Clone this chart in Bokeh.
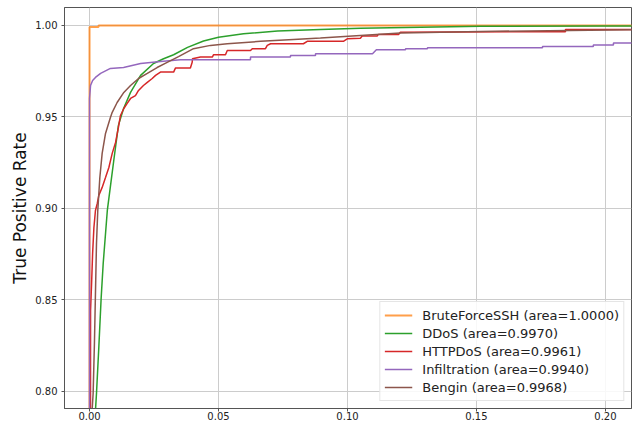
from bokeh.plotting import figure
from bokeh.models import Range1d, FixedTicker, NumeralTickFormatter, Legend, LegendItem
from bokeh.embed import file_html
from bokeh.resources import INLINE

# ---- data ----
classes = ["BruteForceSSH", "DDoS", "HTTPDoS", "Infiltration", "Bengin"]
areas = [1.0000, 0.9970, 0.9961, 0.9940, 0.9968]

fpr_bruteforce = [0.0, 0.0, 0.0035, 0.0035, 1.0]
tpr_bruteforce = [0.0, 0.9991, 0.9991, 1.0, 1.0]

fpr_ddos = [0.0, 0.0023, 0.0027, 0.0036, 0.0045, 0.0053, 0.0069, 0.0084, 0.0094, 0.0112,
            0.0132, 0.0159, 0.0198, 0.0248, 0.0287, 0.0326, 0.0380, 0.0442, 0.0500, 0.0597,
            0.0729, 0.0895, 0.1050, 0.1516, 0.1980, 0.2300]
tpr_ddos = [0.0, 0.7896, 0.7989, 0.8240, 0.8508, 0.8699, 0.8989, 0.9153, 0.9262, 0.9454,
            0.9546, 0.9634, 0.9727, 0.9792, 0.9818, 0.9840, 0.9880, 0.9915, 0.9936, 0.9955,
            0.9969, 0.9978, 0.9985, 0.9995, 0.9997, 0.9998]

fpr_httpdos = [0.0, 0.0004, 0.0008, 0.0012, 0.0017, 0.0023, 0.0030, 0.0036, 0.0049, 0.0062,
               0.0075, 0.0088, 0.0101, 0.0112, 0.0120, 0.0133, 0.0146, 0.0159, 0.0178, 0.0190,
               0.0209, 0.0224, 0.0243, 0.0256, 0.0275, 0.0326, 0.0333, 0.0391, 0.0398, 0.0399,
               0.0430, 0.0476, 0.0481, 0.0527, 0.0534, 0.0624, 0.0631, 0.0682, 0.0689, 0.0702,
               0.0829, 0.0844, 0.0984, 0.0999, 0.1050, 0.1057, 0.1115, 0.1120, 0.1198, 0.1205,
               0.1845, 0.1845, 0.2300]
tpr_httpdos = [0.0, 0.8443, 0.8590, 0.8754, 0.8896, 0.8989, 0.9027, 0.9071, 0.9115, 0.9169,
               0.9224, 0.9301, 0.9361, 0.9443, 0.9508, 0.9546, 0.9574, 0.9601, 0.9617, 0.9645,
               0.9672, 0.9689, 0.9710, 0.9727, 0.9745, 0.9745, 0.9767, 0.9767, 0.9799, 0.9818,
               0.9827, 0.9827, 0.9840, 0.9840, 0.9863, 0.9863, 0.9873, 0.9873, 0.9891, 0.9900,
               0.9900, 0.9913, 0.9913, 0.9927, 0.9930, 0.9942, 0.9942, 0.9951, 0.9951, 0.9963,
               0.9966, 0.9978, 0.9978]

fpr_infiltration = [0.0, 0.0, 0.0004, 0.0012, 0.0023, 0.0043, 0.0081, 0.0132, 0.0198, 0.0275,
                    0.0353, 0.0624, 0.0624, 0.0779, 0.0779, 0.0876, 0.0876, 0.1097, 0.1112, 0.1225,
                    0.1225, 0.1310, 0.1310, 0.1756, 0.1756, 0.1953, 0.1953, 0.2031, 0.2031, 0.2300]
tpr_infiltration = [0.0, 0.9601, 0.9672, 0.9699, 0.9716, 0.9738, 0.9765, 0.9770, 0.9792, 0.9803,
                    0.9813, 0.9813, 0.9827, 0.9827, 0.9836, 0.9836, 0.9845, 0.9845, 0.9867, 0.9867,
                    0.9873, 0.9873, 0.9878, 0.9878, 0.9885, 0.9885, 0.9893, 0.9893, 0.9904, 0.9904]

fpr_bengin = [0.0, 0.0010, 0.0014, 0.0019, 0.0023, 0.0027, 0.0032, 0.0040, 0.0049, 0.0062,
              0.0081, 0.0088, 0.0107, 0.0133, 0.0159, 0.0190, 0.0224, 0.0262, 0.0301, 0.0345,
              0.0403, 0.0469, 0.0534, 0.0663, 0.0791, 0.0895, 0.1050, 0.1205, 0.1516, 0.2097, 0.2300]
tpr_bengin = [0.0, 0.7896, 0.7989, 0.8262, 0.8536, 0.8809, 0.8989, 0.9169, 0.9301, 0.9410,
              0.9497, 0.9525, 0.9579, 0.9634, 0.9672, 0.9710, 0.9738, 0.9770, 0.9798, 0.9830,
              0.9873, 0.9891, 0.9900, 0.9913, 0.9923, 0.9931, 0.9945, 0.9958, 0.9967, 0.9977, 0.9978]

x_ticks = [0.0, 0.05, 0.10, 0.15, 0.20]
y_ticks = [0.80, 0.85, 0.90, 0.95, 1.00]

series = [
    (fpr_bruteforce, tpr_bruteforce, "#ff7f0e", 2.0, 0.75),
    (fpr_ddos, tpr_ddos, "#2ca02c", 1.5, 1.0),
    (fpr_httpdos, tpr_httpdos, "#d62728", 1.5, 1.0),
    (fpr_infiltration, tpr_infiltration, "#9467bd", 1.5, 1.0),
    (fpr_bengin, tpr_bengin, "#8c564b", 1.5, 1.0),
]

p = figure(width=637, height=425, output_backend="svg", toolbar_location=None,
           x_range=Range1d(-0.0097, 0.2101), y_range=Range1d(0.7907, 1.0098),
           min_border_left=64, min_border_right=6, min_border_top=7, min_border_bottom=17)
p.background_fill_color = "white"
p.border_fill_color = "white"
p.outline_line_color = "#555555"
p.outline_line_width = 1

items = []
for (name, area, (fx, ty, col, lw, al)) in zip(classes, areas, series):
    r = p.line(fx, ty, line_color=col, line_width=lw, line_alpha=al)
    items.append(LegendItem(label=f"{name} (area={area:.4f})", renderers=[r]))

for ax in (p.xaxis[0], p.yaxis[0]):
    ax.axis_line_color = "#555555"
    ax.major_tick_line_color = "#555555"
    ax.major_tick_in = 0
    ax.major_tick_out = 3
    ax.minor_tick_line_color = None
    ax.major_label_text_font = "DejaVu Sans"
    ax.major_label_text_font_size = "10px"
    ax.major_label_text_color = "#222222"
    ax.formatter = NumeralTickFormatter(format="0.00")

p.xaxis[0].ticker = FixedTicker(ticks=x_ticks)
p.yaxis[0].ticker = FixedTicker(ticks=y_ticks)
p.xaxis[0].major_label_standoff = 0
p.yaxis[0].major_label_standoff = 4
p.yaxis[0].axis_label = "True Positive Rate"
p.yaxis[0].axis_label_text_font = "DejaVu Sans"
p.yaxis[0].axis_label_text_font_size = "17px"
p.yaxis[0].axis_label_text_font_style = "normal"
p.yaxis[0].axis_label_text_color = "#111111"
p.yaxis[0].axis_label_standoff = 2

p.grid.grid_line_color = "#cccccc"
p.grid.grid_line_width = 1

legend = Legend(items=items, location="bottom_right", margin=7, padding=4, spacing=0,
                label_height=18, glyph_height=18, glyph_width=28, label_standoff=10,
                label_text_font="DejaVu Sans", label_text_font_size="13px",
                label_text_color="#222222",
                border_line_color="#cccccc", border_line_width=1,
                background_fill_color="white", background_fill_alpha=0.85)
p.add_layout(legend)

open("out.html", "w").write(file_html(p, INLINE))
